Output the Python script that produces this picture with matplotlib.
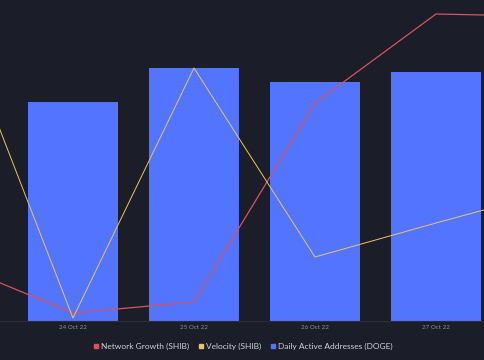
import matplotlib.pyplot as plt

# 数据
dates = ['23 Oct 22', '24 Oct 22', '25 Oct 22', '26 Oct 22', '27 Oct 22', '28 Oct 22']
bar_dates = ['24 Oct 22', '25 Oct 22', '26 Oct 22', '27 Oct 22']
daily_active = [109000, 126000, 119000, 124000]
network_growth = [5800, 800, 1900, 21800, 30700, 30450]
velocity = [3.15, 0.03, 2.53, 0.64, 0.98, 1.31]

bg = '#1b1d29'
blue = '#5274ff'
red = '#d9525f'
yellow = '#ecc65a'
grey = '#8a8d99'

plt.rcParams['font.family'] = ['Lato', 'DejaVu Sans']

fig = plt.figure(figsize=(4.85, 3.6), dpi=100, facecolor=bg)
ax = fig.add_axes([0, 1 - 321 / 360, 1, 321 / 360])
ax.set_facecolor(bg)

x_all = list(range(len(dates)))
x_bar = [dates.index(d) for d in bar_dates]

# 柱状图
ax.bar(x_bar, daily_active, width=0.744, color=blue, zorder=2)
ax.set_ylim(0, 160000)
ax.set_xlim(0.397, 4.405)

# 折线
ax2 = ax.twinx()
ax2.plot(x_all, network_growth, color=red, lw=0.9, zorder=3)
ax2.set_ylim(0, 32100)

ax3 = ax.twinx()
ax3.plot(x_all, velocity, color=yellow, lw=0.7, zorder=3)
ax3.set_ylim(0, 3.21)

for a in (ax, ax2, ax3):
    a.set_yticks([])
    for s in a.spines.values():
        s.set_visible(False)
ax.spines['bottom'].set_visible(True)
ax.spines['bottom'].set_color('#2a2d3a')
ax.spines['bottom'].set_linewidth(0.8)

ax.set_xticks(x_bar)
ax.set_xticklabels(bar_dates, fontsize=4.5, color=grey)
ax.tick_params(axis='x', length=0, pad=3)

# 图例
handles = [
    plt.Line2D([], [], marker='s', ls='', color=red, markersize=3.2),
    plt.Line2D([], [], marker='s', ls='', color=yellow, markersize=3.2),
    plt.Line2D([], [], marker='s', ls='', color=blue, markersize=3.2),
]
labels = ['Network Growth (SHIB)', 'Velocity (SHIB)', 'Daily Active Addresses (DOGE)']
fig.legend(handles, labels, loc='center', bbox_to_anchor=(0.5, 1 - 346 / 360), ncol=3,
           frameon=False, fontsize=6.0, labelcolor='#d0d2da', handletextpad=0.2,
           columnspacing=1.0, handlelength=0.8)

fig.savefig('out.png', dpi=100, facecolor=bg)
